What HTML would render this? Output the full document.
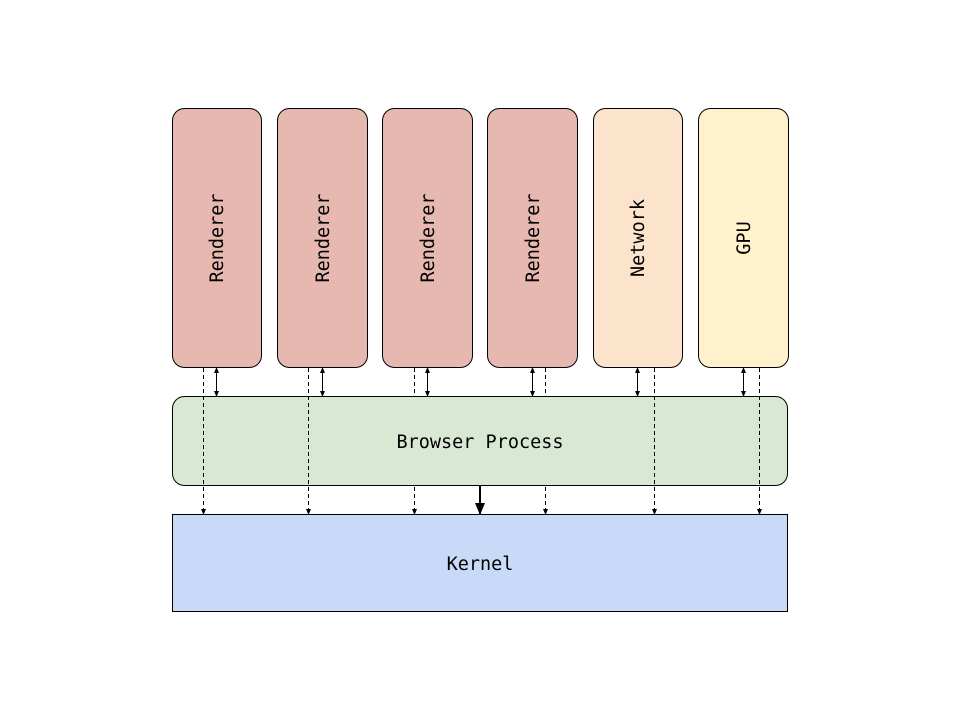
<!DOCTYPE html>
<html><head><style>body{margin:0;background:#fff}</style></head><body>
<svg width="960" height="720" xmlns="http://www.w3.org/2000/svg" font-family="DejaVu Sans Mono, Liberation Mono, monospace" font-size="18.5">
<defs>
<marker id="a" markerWidth="6" markerHeight="6" refX="5" refY="3" orient="auto-start-reverse" markerUnits="userSpaceOnUse"><path d="M0,0.5L6,3L0,5.5z" fill="#000"/></marker>
<marker id="b" markerWidth="12" markerHeight="10" refX="11" refY="5" orient="auto" markerUnits="userSpaceOnUse"><path d="M0,0L12,5L0,10z" fill="#000"/></marker>
</defs>
<g stroke="#000" stroke-width="1">
<rect x="172.5" y="108.5" width="89" height="259" rx="12" fill="#e6b8b0"/>
<rect x="277.5" y="108.5" width="90" height="259" rx="12" fill="#e6b8b0"/>
<rect x="382.5" y="108.5" width="90" height="259" rx="12" fill="#e6b8b0"/>
<rect x="487.5" y="108.5" width="90" height="259" rx="12" fill="#e6b8b0"/>
<rect x="593.5" y="108.5" width="89" height="259" rx="12" fill="#fce4cc"/>
<rect x="698.5" y="108.5" width="90" height="259" rx="12" fill="#fff1cc"/>
<g stroke-dasharray="4,3">
<line x1="414.5" y1="368" x2="414.5" y2="514" marker-end="url(#a)"/>
<line x1="545.5" y1="368" x2="545.5" y2="514" marker-end="url(#a)"/>
</g>
<rect x="172.5" y="396.5" width="615" height="89" rx="12" fill="#d9e8d3"/>
<g stroke-dasharray="4,3">
<line x1="203.5" y1="368" x2="203.5" y2="514" marker-end="url(#a)"/>
<line x1="308.5" y1="368" x2="308.5" y2="514" marker-end="url(#a)"/>
<line x1="654.5" y1="368" x2="654.5" y2="514" marker-end="url(#a)"/>
<line x1="759.5" y1="368" x2="759.5" y2="514" marker-end="url(#a)"/>
</g>
<g>
<line x1="216.5" y1="368" x2="216.5" y2="396" marker-start="url(#a)" marker-end="url(#a)"/>
<line x1="322.5" y1="368" x2="322.5" y2="396" marker-start="url(#a)" marker-end="url(#a)"/>
<line x1="427.5" y1="368" x2="427.5" y2="396" marker-start="url(#a)" marker-end="url(#a)"/>
<line x1="532.5" y1="368" x2="532.5" y2="396" marker-start="url(#a)" marker-end="url(#a)"/>
<line x1="637.5" y1="368" x2="637.5" y2="396" marker-start="url(#a)" marker-end="url(#a)"/>
<line x1="743.5" y1="368" x2="743.5" y2="396" marker-start="url(#a)" marker-end="url(#a)"/>
</g>
<line x1="480" y1="486" x2="480" y2="514" stroke-width="2" marker-end="url(#b)"/>
<rect x="172.5" y="514.5" width="615" height="97" fill="#c9daf8"/>
</g>
<g fill="#000" text-anchor="middle">
<text transform="translate(223,238) rotate(-90)">Renderer</text>
<text transform="translate(329,238) rotate(-90)">Renderer</text>
<text transform="translate(434,238) rotate(-90)">Renderer</text>
<text transform="translate(539,238) rotate(-90)">Renderer</text>
<text transform="translate(644,238) rotate(-90)">Network</text>
<text transform="translate(750,238) rotate(-90)">GPU</text>
<text x="480" y="448">Browser Process</text>
<text x="480" y="570">Kernel</text>
</g>
</svg>
</body></html>
